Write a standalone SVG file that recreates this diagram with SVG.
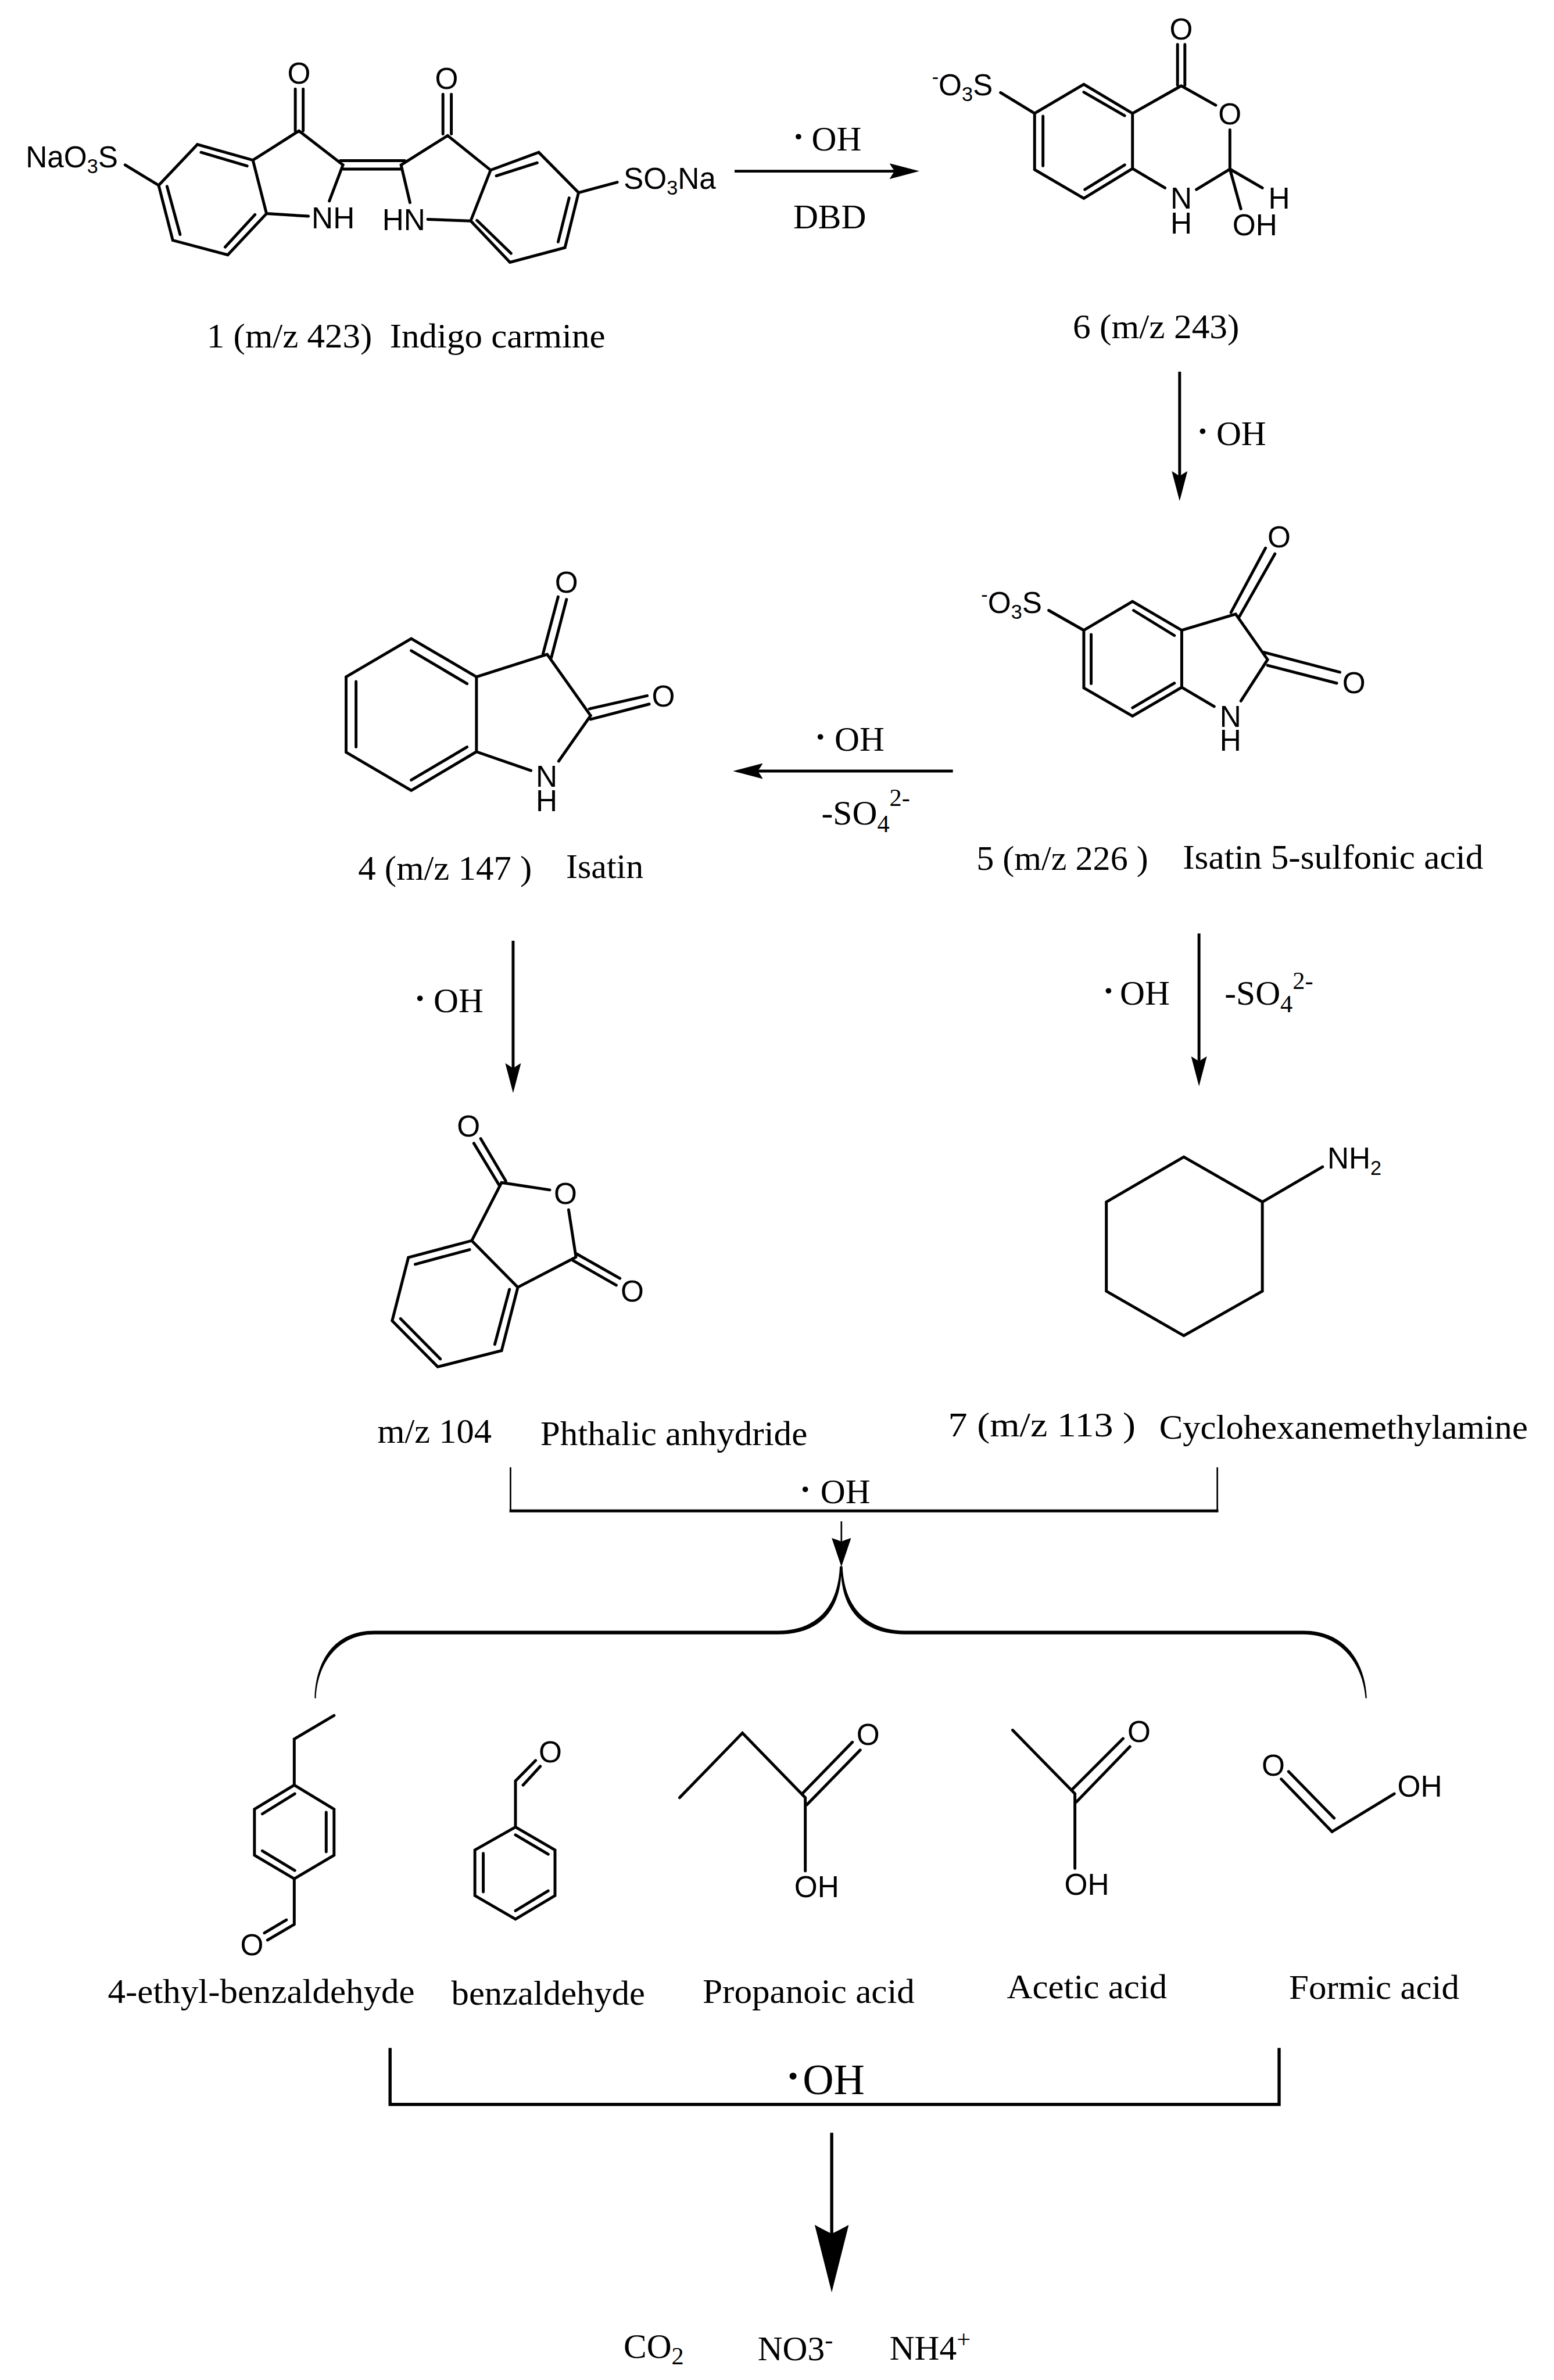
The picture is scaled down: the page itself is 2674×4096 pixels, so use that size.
<svg xmlns="http://www.w3.org/2000/svg" width="2674" height="4096" viewBox="0 0 2674 4096">
<style>
text{fill:#000}
.a{font-family:"Liberation Sans",Arial,sans-serif;font-size:57px}
.m{text-anchor:middle}
.sb{font-size:38px}
.s{font-family:"Liberation Serif","Times New Roman",serif;font-size:66px}
.l{font-size:47px}
.d{font-weight:bold}
.b{fill:none;stroke:#000;stroke-width:5.5;stroke-linecap:round;stroke-linejoin:miter;stroke-miterlimit:6}
.c{fill:none;stroke:#000;stroke-width:5.5}
.t{fill:none;stroke:#000;stroke-width:3}
.h{fill:none;stroke:#000;stroke-width:6}
</style>
<defs>
<marker id="head" markerUnits="userSpaceOnUse" markerWidth="57" markerHeight="30" viewBox="0 0 57 30" refX="12" refY="15" orient="auto"><path d="M57,15L0,0Q5,9 10,15Q5,21 0,30Z"/></marker>
<marker id="headB" markerUnits="userSpaceOnUse" markerWidth="129" markerHeight="65" viewBox="0 0 129 65" refX="20" refY="32.5" orient="auto"><path d="M129,32.5L0,0Q8,14 17,32.5Q8,51 0,65Z"/></marker>
<marker id="headC" markerUnits="userSpaceOnUse" markerWidth="55" markerHeight="37" viewBox="0 0 55 37" refX="8" refY="18.5" orient="auto"><path d="M55,18.5L0,0Q4,12 7,18.5Q4,25 0,37Z"/></marker>
</defs>
<rect width="2674" height="4096" fill="#fff"/>
<g transform="scale(0.90094)">

<g id="connectors">
<path class="c" d="M1403,327H1711" marker-end="url(#head)"/>
<path class="c" d="M2253,710V912" marker-end="url(#head)"/>
<path class="c" d="M1820,1473H1445" marker-end="url(#head)"/>
<path class="c" d="M980,1797V2043" marker-end="url(#head)"/>
<path class="c" d="M2290,1783V2030" marker-end="url(#head)"/>
<path class="t" d="M1607,2906V2946" marker-end="url(#headC)"/>
<path class="h" d="M1588.500,4074V4270" marker-end="url(#headB)"/>
<path class="t" d="M975,2803V2886M2325,2803V2886"/>
<path d="M973,2883.500H2327V2889H973Z"/>
<path d="M601,3244C603,3170 640,3115 715,3115L1486,3115C1545,3115 1600,3085 1604,2992L1609,2992C1613,3085 1670,3115 1728,3115L2490,3115C2565,3115 2607,3170 2610.500,3244L2608,3244C2603,3178 2560,3122 2490,3122L1728,3122C1665,3122 1612,3092 1606.500,3010C1601,3092 1550,3122 1486,3122L715,3122C645,3122 606,3178 603.500,3244Z"/>
<path class="h" d="M745,3912V4020M2443,3912V4020M742,4020H2446"/>
</g>

<g id="node1">
<path class="b" d="M564,170V250M579,170V250M571,250L483,306L377,276L303,354L330,459L435,487L509,408L483,306M571,250L655,315L629,384M509,408L589,413M384,291L472,317M344,448L319,356M487,410L430,472M650,307H773M655,323H766M855,259L766,315L783,387M846,180V256M862,180V256M855,259L937,325L1029,291L1105,368L1079,473L974,501L899,422L937,325M948,336L1026,311M1087,378L1066,462M976,484L911,421M899,422L817,419M303,354L239,315M1105,368L1179,348"/>
<text class="a m" x="571" y="160">O</text>
<text class="a m" x="853" y="170">O</text>
<text class="a" x="49" y="320">NaO<tspan class="sb" dy="11">3</tspan><tspan dy="-11">S</tspan></text>
<text class="a" x="1191" y="361">SO<tspan class="sb" dy="11">3</tspan><tspan dy="-11">Na</tspan></text>
<text class="a" x="595" y="436">NH</text>
<text class="a" x="730" y="440">HN</text>
<text class="s" x="395" y="664" textLength="761" lengthAdjust="spacingAndGlyphs" xml:space="preserve">1 (m/z 423)  Indigo carmine</text>
</g>

<g id="node6">
<path class="b" d="M2249,85V163M2263,85V163M2256,164L2163,216.500L2070,161L1976,216.500V324L2070,379L2163,322V216.500M2070,176L2148,221M1992,222V317M2072,362L2148,315M2256,164L2322,201M2349,248V323L2285,362M2163,322L2225,359M2349,323L2411,359M2349,323L2370,399M1976,216.500L1911,177"/>
<text class="a m" x="2256" y="75">O</text>
<text class="a m" x="2349" y="237">O</text>
<text class="a m"><tspan x="2256" y="399">N</tspan><tspan x="2256" y="446">H</tspan></text>
<text class="a m" x="2443" y="399">H</text>
<text class="a" x="2354" y="449">OH</text>
<text class="a" x="1780" y="182"><tspan class="sb" dy="-22">-</tspan><tspan dy="22">O</tspan><tspan class="sb" dy="11">3</tspan><tspan dy="-11">S</tspan></text>
<text class="s" x="2049" y="646" textLength="318" lengthAdjust="spacingAndGlyphs">6 (m/z 243)</text>
</g>

<g id="node5">
<path class="b" d="M2163,1149L2257,1204V1313L2163,1368L2070,1314V1204ZM2165,1166L2243,1214M2084,1212V1306M2163,1352L2243,1305M2257,1204L2360,1173L2421,1260L2370,1339M2351,1170L2417,1047M2367,1178L2435,1058M2414,1246L2559,1284M2421,1271L2553,1305M2257,1313L2319,1349.500M2070,1204L2003,1166"/>
<text class="a m" x="2443" y="1046">O</text>
<text class="a m" x="2586" y="1324">O</text>
<text class="a m"><tspan x="2350" y="1388">N</tspan><tspan x="2350" y="1434">H</tspan></text>
<text class="a" x="1874" y="1171"><tspan class="sb" dy="-22">-</tspan><tspan dy="22">O</tspan><tspan class="sb" dy="11">3</tspan><tspan dy="-11">S</tspan></text>
<text class="s" x="1865" y="1662" textLength="328" lengthAdjust="spacingAndGlyphs">5 (m/z 226 )</text>
<text class="s" x="2259" y="1659" textLength="574" lengthAdjust="spacingAndGlyphs">Isatin 5-sulfonic acid</text>
</g>

<g id="node4">
<path class="b" d="M785.500,1220L910,1293V1436L785.500,1510L661,1437V1293ZM785.500,1243L892,1306M680,1302V1427M785.500,1490L892,1427M910,1293L1045,1250L1128,1367L1067,1454M1037,1249.500L1066,1140M1053,1256L1082,1145M1126,1354L1236,1329M1128,1374L1240,1345M910,1436L1014,1472"/>
<text class="a m" x="1082" y="1132">O</text>
<text class="a m" x="1267" y="1350">O</text>
<text class="a m"><tspan x="1044" y="1503">N</tspan><tspan x="1044" y="1550">H</tspan></text>
<text class="s" x="684" y="1681" textLength="332" lengthAdjust="spacingAndGlyphs">4 (m/z 147 )</text>
<text class="s" x="1081" y="1677" textLength="148" lengthAdjust="spacingAndGlyphs">Isatin</text>
</g>

<g id="node-phthalic">
<path class="b" d="M780,2402L901,2370L989,2459L958,2580L836,2611L749,2523ZM793,2415L897,2387M973,2463L945,2568M841,2596L765,2519M901,2370L958,2259L1050,2273M954,2265L905,2184M966,2256L918,2175M1086,2311L1100,2401M989,2459L1099,2402M1101,2395L1184,2442M1094.500,2408L1177,2455"/>
<text class="a m" x="895" y="2171">O</text>
<text class="a m" x="1080" y="2300">O</text>
<text class="a m" x="1207.500" y="2486">O</text>
<text class="s" x="721" y="2756" textLength="218" lengthAdjust="spacingAndGlyphs">m/z 104</text>
<text class="s" x="1032" y="2760" textLength="510" lengthAdjust="spacingAndGlyphs">Phthalic anhydride</text>
</g>

<g id="node7">
<path class="b" d="M2261,2210L2411,2296V2466.500L2261,2551.500L2113,2466.500V2296ZM2411,2296L2526,2229"/>
<text class="a" x="2535" y="2232">NH<tspan class="sb" dy="12">2</tspan></text>
<text class="s" x="1811" y="2744" textLength="358" lengthAdjust="spacingAndGlyphs">7 (m/z 113 )</text>
<text class="s" x="2214" y="2748" textLength="704" lengthAdjust="spacingAndGlyphs">Cyclohexanemethylamine</text>
</g>

<g id="node-ethylbenzaldehyde">
<path class="b" d="M638,3277L562,3322V3410L638,3456V3544L562,3589L486,3544V3456L562,3410M563,3426.500L501,3465M623,3462V3537.500M501,3535.500L563,3573M562,3589V3676L511,3706M547,3667.500L505,3692.500"/>
<text class="a m" x="481" y="3735">O</text>
<text class="s" x="206" y="3826" textLength="586" lengthAdjust="spacingAndGlyphs">4-ethyl-benzaldehyde</text>
</g>

<g id="node-benzaldehyde">
<path class="b" d="M1023,3363L984.500,3402V3490L1060,3534V3621L984.500,3666L907,3621V3534L984.500,3490M999,3410L1032,3374M984.500,3505L1047,3542M923,3540.500V3614M984.500,3650L1047,3612"/>
<text class="a m" x="1051" y="3367">O</text>
<text class="s" x="862" y="3829" textLength="370" lengthAdjust="spacingAndGlyphs">benzaldehyde</text>
</g>

<g id="node-propanoic">
<path class="b" d="M1298,3434L1418,3310.500L1538,3434V3574M1534,3424.500L1628,3328M1541,3447.500L1643,3343"/>
<text class="a m" x="1658" y="3333">O</text>
<text class="a" x="1517" y="3624">OH</text>
<text class="s" x="1342" y="3826" textLength="405" lengthAdjust="spacingAndGlyphs">Propanoic acid</text>
</g>

<g id="node-acetic">
<path class="b" d="M1934,3305L2053,3426.500V3569M2049,3417L2145,3321M2056,3442L2158,3336.500"/>
<text class="a m" x="2175.500" y="3328">O</text>
<text class="a" x="2033" y="3619">OH</text>
<text class="s" x="1923" y="3817" textLength="306" lengthAdjust="spacingAndGlyphs">Acetic acid</text>
</g>

<g id="node-formic">
<path class="b" d="M2461,3384L2548,3473M2447,3398.500L2544,3499L2663,3426.500"/>
<text class="a m" x="2432" y="3392">O</text>
<text class="a" x="2669" y="3432">OH</text>
<text class="s" x="2462" y="3818" textLength="325" lengthAdjust="spacingAndGlyphs">Formic acid</text>
</g>

<g id="node-products">
<text class="s" x="1191" y="4504">CO<tspan class="l" dy="12">2</tspan></text>
<text class="s" x="1447" y="4509">NO3<tspan class="l" dy="-24">-</tspan></text>
<text class="s" x="1699" y="4508">NH4<tspan class="l" dy="-24">+</tspan></text>
</g>

<g id="labels">
<text class="s" y="287"><tspan class="d" x="1514" dy="-4">· </tspan><tspan x="1550" dy="4">OH</tspan></text>
<text class="s" x="1515" y="436">DBD</text>
<text class="s" y="850"><tspan class="d" x="2286" dy="-4">· </tspan><tspan x="2323" dy="4">OH</tspan></text>
<text class="s" y="1434"><tspan class="d" x="1556" dy="-4">· </tspan><tspan x="1594" dy="4">OH</tspan></text>
<text class="s" x="1569" y="1575">-SO<tspan class="l" dy="15">4</tspan><tspan class="l" dy="-50">2-</tspan></text>
<text class="s" y="1933"><tspan class="d" x="791" dy="-4">· </tspan><tspan x="828" dy="4">OH</tspan></text>
<text class="s" y="1919"><tspan class="d" x="2106" dy="-4">· </tspan><tspan x="2139" dy="4">OH</tspan></text>
<text class="s" x="2339" y="1919">-SO<tspan class="l" dy="15">4</tspan><tspan class="l" dy="-45">2-</tspan></text>
<text class="s" y="2871"><tspan class="d" x="1527" dy="-4">· </tspan><tspan x="1567" dy="4">OH</tspan></text>
<text class="s" style="font-size:82px" y="4000"><tspan class="d" x="1501" dy="-6">·</tspan><tspan x="1533" dy="6">OH</tspan></text>
</g>
</g>
</svg>
